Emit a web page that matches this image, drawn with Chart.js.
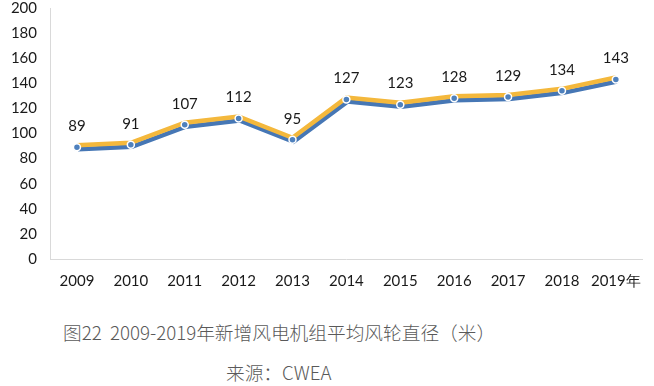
<!DOCTYPE html>
<html>
<head>
<meta charset="utf-8">
<script src="https://cdn.jsdelivr.net/npm/chart.js@4/dist/chart.umd.min.js"></script>
<style>
  html, body { margin: 0; padding: 0; background: #fff; }
  body { width: 654px; height: 386px; position: relative; overflow: hidden; }
  #wrap { position: absolute; left: 0; top: 0; width: 654px; height: 300px; }
  .cap { position: absolute; font-family: "Noto Sans CJK SC", "Noto Sans", sans-serif; font-weight: 300; color: #595959; font-size: 18.7px; white-space: nowrap; }
</style>
</head>
<body>
<div id="wrap"><canvas id="c"></canvas></div>
<div class="cap" style="left:63px; top:318px;">图22&nbsp; 2009-2019年新增风电机组平均风轮直径（米）</div>
<div class="cap" style="left:226px; top:358px;">来源：CWEA</div>
<script>
// === DATA ===
const years = ['2009', '2010', '2011', '2012', '2013', '2014', '2015', '2016', '2017', '2018', '2019年'];
const diameter = [89, 91, 107, 112, 95, 127, 123, 128, 129, 134, 143];
const yTicks = [0, 20, 40, 60, 80, 100, 120, 140, 160, 180, 200];

const FONT = "Lato, 'Noto Sans', sans-serif";

// blue shadow under the gold line (only for the line dataset)
const shadowLine = {
    id: 'shadowLine',
    beforeDatasetDraw(chart, args) {
        if (args.index !== 0) return;
        const ctx = chart.ctx;
        ctx.save();
        ctx.translate(0, -2);
        ctx.shadowColor = '#4677b5';
        ctx.shadowOffsetX = 1;
        ctx.shadowOffsetY = 4;
        ctx.shadowBlur = 0;
    },
    afterDatasetDraw(chart, args) {
        if (args.index !== 0) return;
        chart.ctx.restore();
    }
};

// value labels above each point
const valueLabels = {
    id: 'valueLabels',
    afterDatasetsDraw(chart) {
        const ctx = chart.ctx;
        const meta = chart.getDatasetMeta(1);
        ctx.save();
        ctx.font = '15px ' + FONT;
        ctx.fillStyle = '#1a1a1a';
        ctx.textAlign = 'center';
        ctx.textBaseline = 'middle';
        meta.data.forEach((pt, i) => {
            ctx.fillText(diameter[i], pt.x, pt.y - 21);
        });
        ctx.restore();
    }
};

new Chart(document.getElementById('c'), {
    type: 'line',
    data: {
        labels: years,
        datasets: [{
            data: diameter, order: 2,
            borderColor: '#f4b83c', borderWidth: 4.5,
            pointRadius: 0, tension: 0, fill: false
        }, {
            data: diameter, order: 1,
            showLine: false,
            pointRadius: 3.5, pointBorderWidth: 1.5,
            pointBackgroundColor: '#4f81bd', pointBorderColor: '#ffffff'
        }]
    },
    options: {
        responsive: true, maintainAspectRatio: false, animation: false,
        layout: { padding: 0 },
        plugins: { legend: { display: false }, tooltip: { enabled: false } },
        scales: {
            x: {
                offset: true,
                grid: { display: false, drawTicks: false },
                border: { display: true, color: '#d9d9d9', width: 1 },
                ticks: { color: '#1a1a1a', font: { family: FONT, size: 15 }, padding: 13, maxRotation: 0, autoSkip: false },
                afterFit: s => { s.height = 41; }
            },
            y: {
                min: 0, max: 200,
                grid: { display: false, drawTicks: false },
                border: { display: true, color: '#d9d9d9', width: 1 },
                afterBuildTicks: s => { s.ticks = yTicks.map(v => ({ value: v })); },
                ticks: { color: '#1a1a1a', font: { family: FONT, size: 15 }, padding: 13 },
                afterFit: s => { s.width = 50; s.paddingTop = 8; s.paddingBottom = 8; }
            }
        }
    },
    plugins: [shadowLine, valueLabels]
});
</script>
</body>
</html>
